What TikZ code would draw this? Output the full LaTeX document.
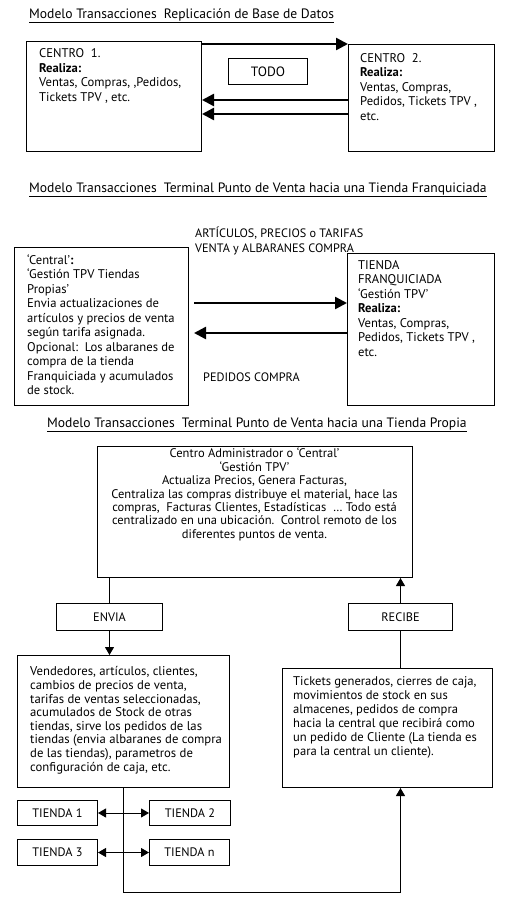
\documentclass[tikz,border=0pt]{standalone}
\usepackage{fontspec}
\setmainfont{PT Sans}
\usetikzlibrary{arrows.meta, calc}

\begin{document}
\begin{tikzpicture}[x=1pt, y=-1pt,
	box/.style={draw, line width=1pt, anchor=north west, inner sep=0pt, font=\fontsize{12.3}{14}\selectfont},
	txt/.style={anchor=north west, inner sep=0pt, align=left, font=\fontsize{12.6}{14.5}\selectfont},
	heading/.style={anchor=base west, inner sep=0pt, font=\fontsize{13.6}{14}\selectfont},
	bigarrow/.style={line width=2.5pt, -{Triangle[length=12pt, width=12pt]}},
	arrow/.style={line width=1pt, -{Triangle[length=8pt, width=9pt]}},
	dblarrow/.style={line width=1pt, {Triangle[length=8pt, width=9pt]}-{Triangle[length=8pt, width=9pt]}},
	link/.style={line width=1pt}]
	\useasboundingbox (0,0) rectangle (505,906);
	% Replication between two centres: one thick arrow out, two back,
	% the label box just floats between them.
	\node[heading] (titulo1) at (29,18) {\underline{Modelo Transacciones\ \ Replicación de Base de Datos}};
	\node[box, minimum width=175pt, minimum height=110pt] (centro1) at (26,41) {};
	\node[box, minimum width=146pt, minimum height=107pt] (centro2) at (348,44) {};
	\node[box, minimum width=79pt, minimum height=26pt, font=\fontsize{13.5}{14}\selectfont] (todo) at (228,58) {TODO};
	\node[txt] (centro1txt) at (39,48.5) {CENTRO\ \ 1.\\\textbf{Realiza:}\\Ventas, Compras, ,Pedidos,\\Tickets TPV , etc.};
	\node[txt] (centro2txt) at (360,53) {CENTRO\ \ 2.\\\textbf{Realiza:}\\Ventas, Compras,\\Pedidos, Tickets TPV ,\\etc.};
	\draw[bigarrow] ([yshift=-3pt]centro1.north east) -- (centro2.north west);
	\draw[bigarrow] (centro2.west |- 0,100) -- (centro1.east |- 0,100);
	\draw[bigarrow] (centro2.west |- 0,114) -- (centro1.east |- 0,114);

	% Franchised shop
	\node[heading] (titulo2) at (29,192) {\underline{Modelo Transacciones\ \ Terminal Punto de Venta hacia una Tienda Franquiciada}};
	\node[txt, font=\fontsize{12.2}{15.5}\selectfont] (envio) at (195,226.5) {ARTÍCULOS, PRECIOS o TARIFAS\\VENTA y ALBARANES COMPRA};
	\node[box, minimum width=174pt, minimum height=158pt] (central) at (14,247) {};
	\node[box, minimum width=147pt, minimum height=152pt] (franq) at (347,253) {};
	\node[txt] (centraltxt) at (27,254) {‘Central’\textbf{:}\\‘Gestión TPV Tiendas\\Propias’\\Envia actualizaciones de\\artículos y precios de venta\\según tarifa asignada.\\Opcional:\ \ Los albaranes de\\compra de la tienda\\Franquiciada y acumulados\\de stock.};
	\node[txt] (franqtxt) at (358,260) {TIENDA\\FRANQUICIADA\\‘Gestión TPV’\\\textbf{Realiza:}\\Ventas, Compras,\\Pedidos, Tickets TPV ,\\etc.};
	\draw[bigarrow, shorten <=5pt] (central.east |- 0,303) -- (franq.west |- 0,303);
	\draw[bigarrow, shorten >=5pt] (franq.west |- 0,333) -- (central.east |- 0,333);
	\node[heading, font=\fontsize{12.2}{14}\selectfont] (pedidos) at (203,381) {PEDIDOS COMPRA};

	% Own shops: central box, send/receive loop round the shop boxes
	\node[heading] (titulo3) at (47,427) {\underline{Modelo Transacciones\ \ Terminal Punto de Venta hacia una Tienda Propia}};
	\node[box, minimum width=315pt, minimum height=131pt] (admin) at (97,446) {};
	\node[txt, anchor=north, align=center, font=\fontsize{12.5}{13.4}\selectfont] (admintxt) at (254.5,448) {Centro Administrador o ‘Central’\\‘Gestión TPV’\\Actualiza Precios, Genera Facturas,\\Centraliza las compras distribuye el material, hace las\\compras,\ \ Facturas Clientes, Estadísticas\ \ … Todo está\\centralizado en una ubicación.\ \ Control remoto de los\\diferentes puntos de venta.};
	\node[box, minimum width=106pt, minimum height=27pt] (envia) at (56,603) {ENVIA};
	\node[box, minimum width=104pt, minimum height=27pt] (recibe) at (348,603) {RECIBE};
	\node[box, minimum width=212pt, minimum height=132pt] (vend) at (17,655) {};
	\node[box, minimum width=210pt, minimum height=119pt] (ticket) at (282,668) {};
	\node[txt, font=\fontsize{12.7}{13.6}\selectfont] (vendtxt) at (30,666.5) {Vendedores, artículos, clientes,\\cambios de precios de venta,\\tarifas de ventas seleccionadas,\\acumulados de Stock de otras\\tiendas, sirve los pedidos de las\\tiendas (envia albaranes de compra\\de las tiendas), parametros de\\configuración de caja, etc.};
	\node[txt, font=\fontsize{12.6}{14}\selectfont] (tickettxt) at (293,676.5) {Tickets generados, cierres de caja,\\movimientos de stock en sus\\almacenes, pedidos de compra\\hacia la central que recibirá como\\un pedido de Cliente (La tienda es\\para la central un cliente).};
	\node[box, minimum width=80pt, minimum height=25pt] (tienda1) at (17,800) {TIENDA 1};
	\node[box, minimum width=81pt, minimum height=25pt] (tienda2) at (149,800) {TIENDA 2};
	\node[box, minimum width=80pt, minimum height=26pt] (tienda3) at (17,839) {TIENDA 3};
	\node[box, minimum width=80pt, minimum height=26pt] (tiendan) at (149,839) {TIENDA n};
	\coordinate (retorno) at (0,892);
	\draw[link] (envia.north) -- (envia.north |- admin.south);
	\draw[arrow] (recibe.north) -- (recibe.north |- admin.south);
	\draw[arrow] (envia.south) -- (envia.south |- vend.north);
	\draw[link] (recibe.south) -- (recibe.south |- ticket.north);
	\draw[arrow] (vend.south) -- (vend.south |- retorno) -| (recibe.south |- ticket.south);
	\draw[dblarrow] (tienda1.east) -- (tienda2.west);
	\draw[dblarrow] (tienda3.east) -- (tiendan.west);
\end{tikzpicture}
\end{document}
